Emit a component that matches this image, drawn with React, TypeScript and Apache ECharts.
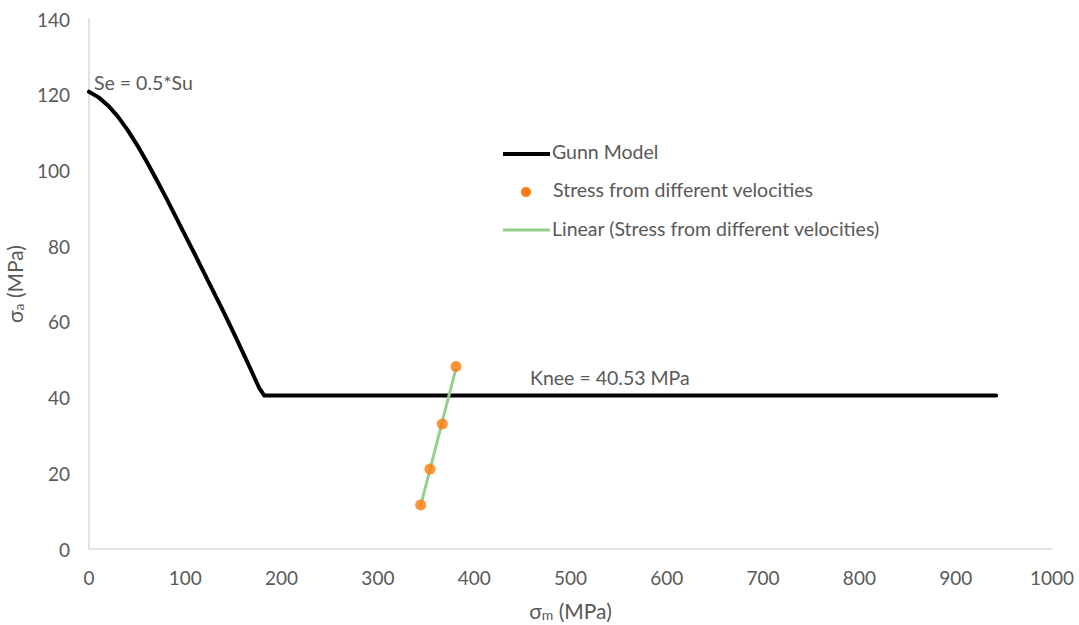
import React, { useEffect, useRef } from "react";
import * as echarts from "echarts";

const gunnX = [0, 10, 20, 30, 40, 50, 60, 70, 80, 90, 100, 110, 120, 130, 140, 150, 160, 170, 177, 182, 942];
const gunnY = [120.8, 119.3, 117.1, 114.2, 110.7, 106.7, 102.3, 97.6, 92.8, 87.8, 82.8, 77.8, 72.7, 67.6, 62.5, 57.2, 51.8, 46.3, 42.4, 40.53, 40.53];

const stressX = [344.4, 354.1, 366.9, 381.1];
const stressY = [11.6, 21.1, 33.0, 48.2];

const xTicks = [0, 100, 200, 300, 400, 500, 600, 700, 800, 900, 1000];
const yTicks = [0, 20, 40, 60, 80, 100, 120, 140];

const legendNames = ["Gunn Model", "Stress from different velocities", "Linear (Stress from different velocities)"];
const annotations = ["Se = 0.5*Su", "Knee = 40.53 MPa"];

function linearFit(xs: number[], ys: number[]) {
  const n = xs.length;
  const mx = xs.reduce((a, b) => a + b, 0) / n;
  const my = ys.reduce((a, b) => a + b, 0) / n;
  let sxy = 0, sxx = 0;
  for (let i = 0; i < n; i++) {
    sxy += (xs[i] - mx) * (ys[i] - my);
    sxx += (xs[i] - mx) * (xs[i] - mx);
  }
  const slope = sxy / sxx;
  const icpt = my - slope * mx;
  const x0 = Math.min(...xs);
  const x1 = Math.max(...xs);
  return [[x0, icpt + slope * x0], [x1, icpt + slope * x1]];
}

const FONT = "Lato, 'Open Sans', sans-serif";
const TXT = "#595959";
const ORANGE = "#FF7A0A";
const GREEN = "#93D18A";
const FS = 19.5;

export default function App() {
  const ref = useRef<HTMLDivElement>(null);
  useEffect(() => {
    if (!ref.current) return;
    const chart = echarts.init(ref.current, null, { renderer: "svg" });
    const fit = linearFit(stressX, stressY);
    chart.setOption({
      animation: false,
      backgroundColor: "#ffffff",
      textStyle: { fontFamily: FONT },
      grid: { left: 89, right: 27, top: 19, bottom: 76, containLabel: false, outerBoundsMode: "none" },
      xAxis: {
        type: "value",
        min: xTicks[0],
        max: xTicks[xTicks.length - 1],
        interval: 100,
        axisLine: { show: true, lineStyle: { color: "#D9D9D9", width: 1.5 } },
        axisTick: { show: false },
        splitLine: { show: false },
        axisLabel: { color: TXT, fontSize: 19, fontFamily: FONT, margin: 19, formatter: (v: number) => String(v) },
        name: "{s|σ}{sub|m}{s| (MPa)}",
        nameLocation: "middle",
        nameGap: 51,
        nameTextStyle: {
          rich: {
            s: { fontSize: 21, color: TXT, fontFamily: FONT },
            sub: { fontSize: 14, color: TXT, fontFamily: FONT, padding: [7, 0, 0, 0] },
          },
        },
      },
      yAxis: {
        type: "value",
        min: yTicks[0],
        max: yTicks[yTicks.length - 1],
        interval: 20,
        axisLine: { show: true, lineStyle: { color: "#D9D9D9", width: 1.5 } },
        axisTick: { show: false },
        splitLine: { show: false },
        axisLabel: { color: TXT, fontSize: 19, fontFamily: FONT, margin: 19, formatter: (v: number) => String(v) },
        name: "{s|σ}{sub|a}{s| (MPa)}",
        nameLocation: "middle",
        nameGap: 64,
        nameRotate: 90,
        nameTextStyle: {
          rich: {
            s: { fontSize: 21, color: TXT, fontFamily: FONT },
            sub: { fontSize: 14, color: TXT, fontFamily: FONT, padding: [7, 0, 0, 0] },
          },
        },
      },
      series: [
        {
          name: legendNames[0],
          type: "line",
          data: gunnX.map((x, i) => [x, gunnY[i]]),
          showSymbol: false,
          smooth: false,
          lineStyle: { color: "#000000", width: 4, cap: "round", join: "round" },
          z: 2,
        },
        {
          name: legendNames[2],
          type: "line",
          data: fit,
          showSymbol: false,
          lineStyle: { color: GREEN, width: 3 },
          z: 3,
        },
        {
          name: legendNames[1],
          type: "scatter",
          data: stressX.map((x, i) => [x, stressY[i]]),
          symbol: "circle",
          symbolSize: 11,
          itemStyle: { color: ORANGE },
          z: 4,
        },
      ],
      graphic: [
        { type: "text", left: 94, top: 72, style: { text: annotations[0], fill: TXT, font: `${FS}px ${FONT}` } },
        { type: "text", left: 530, top: 367, style: { text: annotations[1], fill: TXT, font: `${FS}px ${FONT}` } },
        { type: "line", shape: { x1: 503, y1: 154, x2: 550, y2: 154 }, style: { stroke: "#000", lineWidth: 4 } },
        { type: "text", left: 552, top: 141, style: { text: legendNames[0], fill: TXT, font: `${FS}px ${FONT}` } },
        { type: "circle", shape: { cx: 526, cy: 192, r: 5 }, style: { fill: ORANGE } },
        { type: "text", left: 553, top: 179, style: { text: legendNames[1], fill: TXT, font: `${FS}px ${FONT}` } },
        { type: "line", shape: { x1: 503, y1: 230, x2: 550, y2: 230 }, style: { stroke: GREEN, lineWidth: 3 } },
        { type: "text", left: 552, top: 218, style: { text: legendNames[2], fill: TXT, font: `${FS}px ${FONT}` } },
      ],
    });
    return () => chart.dispose();
  }, []);
  return <div ref={ref} style={{ position: "absolute", left: 0, top: 0, width: 1079, height: 625 }} />;
}
